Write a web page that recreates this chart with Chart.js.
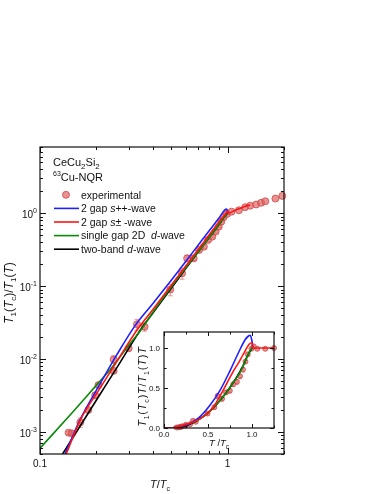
<!DOCTYPE html>
<html>
<head>
<meta charset="utf-8">
<script src="https://cdn.jsdelivr.net/npm/chart.js@4.4.0/dist/chart.umd.min.js"></script>
<style>
html, body { margin: 0; padding: 0; background: #fff; }
#wrap { position: relative; width: 382px; height: 494px; }
#main { position: absolute; left: 0; top: 0; }
#inset { position: absolute; left: 120px; top: 325px; }
</style>
</head>
<body>
<div id="wrap">
  <canvas id="main" width="382" height="494"></canvas>
  <canvas id="inset" width="160" height="126"></canvas>
</div>
<script>
// ---- main panel: T1(Tc)/T1(T) vs T/Tc (log-log) ----
var tExp = [0.142, 0.148, 0.164, 0.181, 0.197, 0.205, 0.247, 0.247, 0.297, 0.329, 0.361,
            0.495, 0.572, 0.609, 0.660, 0.705, 0.748, 0.787, 0.829, 0.864, 0.898, 0.926,
            0.952, 0.993, 1.05, 1.15, 1.24, 1.32, 1.42, 1.51, 1.59, 1.80, 1.96];
var rateExp = [9.8e-4, 9.6e-4, 1.36e-3, 2.0e-3, 3.2e-3, 4.4e-3, 9.9e-3, 6.9e-3, 0.0141, 0.030, 0.0278,
               0.090, 0.150, 0.241, 0.241, 0.314, 0.348, 0.43, 0.478, 0.56, 0.655, 0.767,
               0.88, 0.98, 1.05, 1.10, 1.21, 1.27, 1.32, 1.39, 1.46, 1.59, 1.73];
var errExp = [0.05, 0.05, 0.15, 0.06, 0.08, 0.06, 0.12, 0.06, 0.08, 0.17, 0.13,
              0.18, 0.17, 0.10, 0.08, 0.06, 0.06, 0.05, 0.04, 0.04, 0.03, 0.03,
              0.03, 0.03, 0, 0, 0, 0, 0, 0, 0, 0, 0];

var tSpp = [0.136, 0.164, 0.205, 0.257, 0.322, 0.4, 0.5, 0.6, 0.7, 0.8, 0.9, 0.97, 0.99, 1.005];
var rSpp = [5.0e-4, 1.5e-3, 4.2e-3, 0.0115, 0.029, 0.058, 0.12, 0.22, 0.37, 0.58, 0.86, 1.12, 1.14, 1.0];

var tSpm = [0.138, 0.164, 0.205, 0.257, 0.329, 0.4, 0.5, 0.6, 0.7, 0.8, 0.9, 0.976, 0.995, 1.01, 1.1, 1.2, 1.32];
var rSpm = [5.0e-4, 1.46e-3, 3.7e-3, 9.3e-3, 0.0251, 0.048, 0.102, 0.19, 0.32, 0.51, 0.76, 0.98, 1.06, 1.01, 1.1, 1.2, 1.31];

var tD1 = [0.1, 0.15, 0.2, 0.237, 0.3, 0.343, 0.4, 0.5, 0.6, 0.7, 0.8, 0.9, 0.953, 1.0];
var rD1 = [6.0e-4, 1.9e-3, 4.4e-3, 7.2e-3, 0.016, 0.0245, 0.044, 0.097, 0.18, 0.3, 0.47, 0.7, 0.87, 1.0];

var tD2 = [0.132, 0.2, 0.26, 0.343, 0.4, 0.5, 0.6, 0.7, 0.8, 0.9, 0.953, 1.0];
var rD2 = [5.0e-4, 2.75e-3, 8.0e-3, 0.0251, 0.043, 0.093, 0.176, 0.298, 0.468, 0.698, 0.868, 1.0];

var xTickMain = [0.1, 1];
var xTickMainText = ['0.1', '1'];
var yTickMain = [1, 0.1, 0.01, 0.001];
var yTickMainExp = ['0', '-1', '-2', '-3'];

// ---- inset: T1(Tc)Tc/T1(T)T vs T/Tc (linear) ----
var xExpIn = [0.142, 0.164, 0.181, 0.197, 0.205, 0.247, 0.247, 0.297, 0.329, 0.361, 0.495, 0.572,
              0.609, 0.660, 0.705, 0.748, 0.787, 0.829, 0.864, 0.898, 0.926, 0.952, 0.993,
              1.02, 1.06, 1.15, 1.25];
var yExpIn = [0.007, 0.008, 0.011, 0.016, 0.021, 0.040, 0.028, 0.047, 0.090, 0.077, 0.18, 0.26,
              0.40, 0.365, 0.445, 0.465, 0.546, 0.577, 0.648, 0.73, 0.83, 0.92, 0.99,
              1.02, 0.99, 0.99, 1.0];
var errIn = [0, 0, 0, 0, 0, 0, 0, 0, 0.1, 0.1, 0.12, 0.1,
             0.08, 0.08, 0.06, 0.06, 0.05, 0.05, 0.04, 0.04, 0.03, 0.03, 0.02,
             0, 0, 0, 0];

var xSppIn = [0, 0.1, 0.175, 0.29, 0.404, 0.52, 0.635, 0.75, 0.85, 0.92, 0.96, 0.98, 1.0, 1.01];
var ySppIn = [0, 0.004, 0.02, 0.054, 0.136, 0.28, 0.467, 0.715, 0.95, 1.1, 1.15, 1.16, 1.087, 1.01];

var xSpmIn = [0, 0.1, 0.175, 0.33, 0.44, 0.56, 0.67, 0.79, 0.845, 0.9, 0.97, 1.0, 1.01, 1.25];
var ySpmIn = [0, 0.004, 0.02, 0.074, 0.136, 0.26, 0.467, 0.715, 0.81, 0.92, 1.05, 1.066, 1.0, 1.0];

var xD1In = [0, 0.15, 0.3, 0.4, 0.5, 0.6, 0.7, 0.8, 0.845, 0.9, 0.97, 1.0];
var yD1In = [0, 0.01, 0.058, 0.11, 0.19, 0.3, 0.43, 0.59, 0.66, 0.78, 0.95, 1.0];

var xD2In = [0, 0.13, 0.2, 0.26, 0.343, 0.4, 0.5, 0.6, 0.7, 0.8, 0.9, 0.953, 1.0];
var yD2In = [0, 0.004, 0.014, 0.031, 0.073, 0.112, 0.19, 0.297, 0.43, 0.59, 0.78, 0.91, 1.0];

var xTickIn = [0, 0.5, 1.0];
var yTickIn = [0, 0.5, 1.0];

var BLUE = '#1f1fff', RED = '#ff1414', GREEN = '#0a8a0a', BLACK = '#000000';
var PT_FILL = 'rgba(226,96,96,0.68)', PT_EDGE = 'rgba(200,60,60,0.7)', ERR = 'rgba(225,120,120,0.75)';
var FONT = '"Liberation Sans", Arial, sans-serif';

function pts(xs, ys) {
    return xs.map(function (x, i) { return { x: x, y: ys[i] }; });
}

function fontOf(s) {
    return (s.it ? 'italic ' : '') + (s.size || 11) + 'px ' + FONT;
}

function richWidth(ctx, segs, gap) {
    var w = 0;
    segs.forEach(function (s) { ctx.font = fontOf(s); w += ctx.measureText(s.t).width; });
    return w + (gap || 0) * (segs.length - 1);
}

function drawRich(ctx, x, y, segs, align, gap) {
    gap = gap || 0;
    var w = richWidth(ctx, segs, gap);
    var cx = align === 'center' ? x - w / 2 : (align === 'right' ? x - w : x);
    ctx.textAlign = 'left';
    ctx.textBaseline = 'alphabetic';
    segs.forEach(function (s) {
        ctx.font = fontOf(s);
        ctx.fillText(s.t, cx, y + (s.dy || 0));
        cx += ctx.measureText(s.t).width + gap;
    });
}

function logTicks(lo, hi) {
    var out = [];
    for (var e = Math.floor(Math.log10(lo)); e <= Math.ceil(Math.log10(hi)); e++) {
        for (var m = 1; m < 10; m++) {
            var v = m * Math.pow(10, e);
            if (v >= lo * 0.999 && v <= hi * 1.001) out.push({ v: v, major: m === 1 });
        }
    }
    return out;
}

function linTicks(lo, hi, step, majorStep) {
    var out = [];
    for (var v = lo; v <= hi + 1e-9; v += step) {
        var r = Math.round(v * 1000) / 1000;
        out.push({ v: r, major: Math.abs(r / majorStep - Math.round(r / majorStep)) < 1e-6 });
    }
    return out;
}

function drawFrame(chart, xt, yt, bigLen, smallLen) {
    var ctx = chart.ctx, a = chart.chartArea, sx = chart.scales.x, sy = chart.scales.y;
    ctx.save();
    ctx.strokeStyle = '#111';
    ctx.lineWidth = 1.2;
    ctx.strokeRect(a.left, a.top, a.right - a.left, a.bottom - a.top);
    ctx.lineWidth = 1;
    ctx.beginPath();
    xt.forEach(function (t) {
        var px = Math.round(sx.getPixelForValue(t.v)) + 0.5, len = t.major ? bigLen : smallLen;
        ctx.moveTo(px, a.bottom); ctx.lineTo(px, a.bottom - len);
        ctx.moveTo(px, a.top); ctx.lineTo(px, a.top + len);
    });
    yt.forEach(function (t) {
        var py = Math.round(sy.getPixelForValue(t.v)) + 0.5, len = t.major ? bigLen : smallLen;
        ctx.moveTo(a.left, py); ctx.lineTo(a.left + len, py);
        ctx.moveTo(a.right, py); ctx.lineTo(a.right - len, py);
    });
    ctx.stroke();
    ctx.restore();
}

function drawErrors(chart, xs, ys, errs, cap) {
    var ctx = chart.ctx, sx = chart.scales.x, sy = chart.scales.y;
    ctx.save();
    ctx.strokeStyle = ERR;
    ctx.lineWidth = 1;
    ctx.beginPath();
    xs.forEach(function (x, i) {
        if (!errs[i]) return;
        var px = sx.getPixelForValue(x);
        var y1 = sy.getPixelForValue(ys[i] * (1 - errs[i]));
        var y2 = sy.getPixelForValue(ys[i] * (1 + errs[i]));
        ctx.moveTo(px, y1); ctx.lineTo(px, y2);
        ctx.moveTo(px - cap, y1); ctx.lineTo(px + cap, y1);
        ctx.moveTo(px - cap, y2); ctx.lineTo(px + cap, y2);
    });
    ctx.stroke();
    ctx.restore();
}

var mainDecor = {
    id: 'mainDecor',
    beforeDatasetsDraw: function (chart) {
        drawErrors(chart, tExp, rateExp, errExp, 2.5);
    },
    afterDatasetsDraw: function (chart) {
        drawFrame(chart, logTicks(0.1, 2), logTicks(5e-4, 8.1), 6, 3);
    },
    afterDraw: function (chart) {
        var ctx = chart.ctx, sx = chart.scales.x, sy = chart.scales.y;
        ctx.save();
        ctx.fillStyle = '#111';
        // tick labels
        xTickMain.forEach(function (v, i) {
            drawRich(ctx, sx.getPixelForValue(v), 467, [{ t: xTickMainText[i], size: 10 }], 'center');
        });
        yTickMain.forEach(function (v, i) {
            var py = sy.getPixelForValue(v);
            drawRich(ctx, 37, py + 4.5, [{ t: '10', size: 10 }, { t: yTickMainExp[i], size: 7, dy: -4.5 }], 'right');
        });
        // axis titles
        drawRich(ctx, 160, 488, [{ t: 'T', it: true, size: 11 }, { t: '/', size: 11 },
            { t: 'T', it: true, size: 11 }, { t: 'c', size: 7, dy: 2.5 }], 'center');
        ctx.save();
        ctx.translate(13, 293);
        ctx.rotate(-Math.PI / 2);
        drawRich(ctx, 0, 0, [{ t: 'T', it: true, size: 12 }, { t: '1', size: 8, dy: 3 }, { t: '(', size: 12 },
            { t: 'T', it: true, size: 12 }, { t: 'c', size: 8, dy: 3 }, { t: ')/', size: 12 },
            { t: 'T', it: true, size: 12 }, { t: '1', size: 8, dy: 3 }, { t: '(', size: 12 },
            { t: 'T', it: true, size: 12 }, { t: ')', size: 12 }], 'center');
        ctx.restore();
        // sample labels
        drawRich(ctx, 53, 166, [{ t: 'CeCu', size: 11 }, { t: '2', size: 8, dy: 3 }, { t: 'Si', size: 11 }, { t: '2', size: 8, dy: 3 }], 'left');
        drawRich(ctx, 53, 181, [{ t: '63', size: 7, dy: -5 }, { t: 'Cu-NQR', size: 11 }], 'left');
        // legend
        var rows = [194.8, 208.4, 222.0, 235.6, 249.2];
        ctx.beginPath();
        ctx.arc(66, rows[0], 3.5, 0, Math.PI * 2);
        ctx.fillStyle = PT_FILL; ctx.fill();
        ctx.strokeStyle = PT_EDGE; ctx.lineWidth = 1; ctx.stroke();
        [BLUE, RED, GREEN, BLACK].forEach(function (c, i) {
            ctx.beginPath();
            ctx.strokeStyle = c; ctx.lineWidth = 1.6;
            ctx.moveTo(54, rows[i + 1]); ctx.lineTo(79, rows[i + 1]);
            ctx.stroke();
        });
        ctx.fillStyle = '#111';
        var labels = [
            [{ t: 'experimental', size: 10.5 }],
            [{ t: '2 gap ', size: 10.5 }, { t: 's', it: true, size: 10.5 }, { t: '++-wave', size: 10.5 }],
            [{ t: '2 gap ', size: 10.5 }, { t: 's', it: true, size: 10.5 }, { t: '\u00b1 -wave', size: 10.5 }],
            [{ t: 'single gap 2D  ', size: 10.5 }, { t: 'd', it: true, size: 10.5 }, { t: '-wave', size: 10.5 }],
            [{ t: 'two-band ', size: 10.5 }, { t: 'd', it: true, size: 10.5 }, { t: '-wave', size: 10.5 }]
        ];
        labels.forEach(function (segs, i) { drawRich(ctx, 81, rows[i] + 3.8, segs, 'left'); });
        ctx.restore();
    }
};

var insetDecor = {
    id: 'insetDecor',
    beforeDraw: function (chart) {
        var a = chart.chartArea, ctx = chart.ctx;
        ctx.save();
        ctx.fillStyle = '#fff';
        ctx.fillRect(a.left, a.top, a.right - a.left, a.bottom - a.top);
        ctx.restore();
    },
    beforeDatasetsDraw: function (chart) {
        drawErrors(chart, xExpIn, yExpIn, errIn, 1.5);
    },
    afterDatasetsDraw: function (chart) {
        drawFrame(chart, linTicks(0, 1.25, 0.25, 0.5), linTicks(0, 1.2, 0.25, 0.5), 4, 2.5);
    },
    afterDraw: function (chart) {
        var ctx = chart.ctx, sx = chart.scales.x, sy = chart.scales.y, a = chart.chartArea;
        ctx.save();
        ctx.fillStyle = '#111';
        xTickIn.forEach(function (v) {
            drawRich(ctx, sx.getPixelForValue(v), 111.5, [{ t: v.toFixed(1), size: 8 }], 'center');
        });
        yTickIn.forEach(function (v) {
            drawRich(ctx, 40, sy.getPixelForValue(v) + 3, [{ t: v.toFixed(1), size: 8 }], 'right');
        });
        drawRich(ctx, (a.left + a.right) / 2, 121, [{ t: 'T', it: true, size: 9.5 }, { t: ' /', size: 9.5 },
            { t: 'T', it: true, size: 9.5 }, { t: 'c', size: 6.5, dy: 2.5 }], 'center');
        ctx.translate(26, 62);
        ctx.rotate(-Math.PI / 2);
        drawRich(ctx, 0, 0, [{ t: 'T', it: true, size: 11 }, { t: '1', size: 7, dy: 2.5 }, { t: '(', size: 11 },
            { t: 'T', it: true, size: 11 }, { t: 'c', size: 7, dy: 2.5 }, { t: ')', size: 11 },
            { t: 'T', it: true, size: 11 }, { t: '/', size: 11 },
            { t: 'T', it: true, size: 11 }, { t: '1', size: 7, dy: 2.5 }, { t: '(', size: 11 },
            { t: 'T', it: true, size: 11 }, { t: ')', size: 11 }, { t: 'T', it: true, size: 11 }], 'center', 0.8);
        ctx.restore();
    }
};

function lineSet(label, xs, ys, color, order) {
    return {
        label: label, data: pts(xs, ys), showLine: true, borderColor: color,
        backgroundColor: color, borderWidth: 1.6, pointRadius: 0,
        cubicInterpolationMode: 'monotone', order: order
    };
}

var mainChart = new Chart(document.getElementById('main').getContext('2d'), {
    type: 'scatter',
    data: {
        datasets: [
            {
                label: 'experimental', data: pts(tExp, rateExp), pointRadius: 3.5,
                backgroundColor: PT_FILL, borderColor: PT_EDGE, borderWidth: 1, order: 5, clip: false
            },
            lineSet('2 gap s++-wave', tSpp, rSpp, BLUE, 2),
            lineSet('2 gap s\u00b1 -wave', tSpm, rSpm, RED, 1),
            lineSet('single gap 2D d-wave', tD1, rD1, GREEN, 3),
            lineSet('two-band d-wave', tD2, rD2, BLACK, 4)
        ]
    },
    options: {
        responsive: false,
        animation: false,
        layout: { padding: { left: 40, top: 147, right: 98, bottom: 40 } },
        plugins: { legend: { display: false }, tooltip: { enabled: false } },
        scales: {
            x: { type: 'logarithmic', min: 0.1, max: 2, display: false },
            y: { type: 'logarithmic', min: 5e-4, max: 8.1, display: false }
        }
    },
    plugins: [mainDecor]
});

var insetChart = new Chart(document.getElementById('inset').getContext('2d'), {
    type: 'scatter',
    data: {
        datasets: [
            {
                label: 'experimental', data: pts(xExpIn, yExpIn), pointRadius: 2.5,
                backgroundColor: PT_FILL, borderColor: PT_EDGE, borderWidth: 1, order: 5, clip: false
            },
            lineSet('2 gap s++-wave', xSppIn, ySppIn, BLUE, 2),
            lineSet('2 gap s\u00b1 -wave', xSpmIn, ySpmIn, RED, 1),
            lineSet('single gap 2D d-wave', xD1In, yD1In, GREEN, 3),
            lineSet('two-band d-wave', xD2In, yD2In, BLACK, 4)
        ]
    },
    options: {
        responsive: false,
        animation: false,
        layout: { padding: { left: 44, top: 7, right: 6, bottom: 23 } },
        plugins: { legend: { display: false }, tooltip: { enabled: false } },
        scales: {
            x: { type: 'linear', min: 0, max: 1.25, display: false },
            y: { type: 'linear', min: 0, max: 1.2, display: false }
        }
    },
    plugins: [insetDecor]
});
</script>
</body>
</html>
